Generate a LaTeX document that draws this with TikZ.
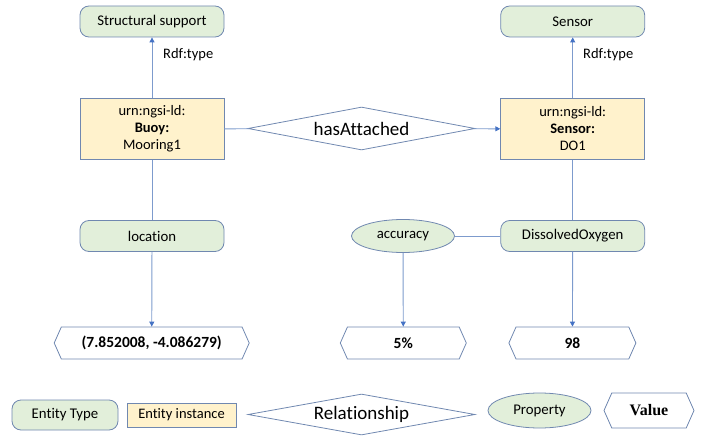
\documentclass[tikz,border=0pt]{standalone}
\usepackage{fontspec}
\setmainfont[Ligatures=NoCommon]{Carlito}
\newfontfamily\serifb{Liberation Serif}
\usetikzlibrary{shapes.geometric,shapes.symbols,arrows.meta}
\definecolor{bordc}{RGB}{112,136,176}
\definecolor{linec}{RGB}{125,155,205}
\definecolor{tipc}{RGB}{68,114,196}
\definecolor{greenf}{RGB}{226,239,218}
\definecolor{yellowf}{RGB}{255,242,204}
\tikzset{
  typebox/.style={draw=bordc, fill=greenf, rounded corners=9pt, minimum width=144pt, minimum height=31pt, inner sep=0pt, font=\fontsize{14.8}{16}\selectfont, line width=0.8pt},
  instbox/.style={draw=bordc, fill=yellowf, minimum width=144pt, minimum height=61pt, inner sep=0pt, align=center, font=\fontsize{14.5}{17}\selectfont, line width=0.8pt},
  relbox/.style={draw=bordc, diamond, aspect=5.3, minimum width=227pt, minimum height=43pt, inner sep=0pt, font=\fontsize{19}{22}\selectfont, line width=0.8pt},
  propbox/.style={draw=bordc, fill=greenf, ellipse, minimum width=103pt, minimum height=33pt, inner sep=0pt, font=\fontsize{14.8}{16}\selectfont, line width=0.8pt},
  valbox/.style={draw=bordc, signal, signal to=west and east, signal pointer angle=132, minimum height=32pt, inner sep=0pt, font=\bfseries\fontsize{15.5}{17}\selectfont, line width=0.8pt},
  conn/.style={draw=linec, line width=0.9pt},
  arr/.style={conn, -{Triangle[length=5pt,width=5pt,fill=tipc,color=tipc]}},
  lbl/.style={font=\fontsize{14.5}{16}\selectfont, inner sep=0pt, anchor=west},
}
\begin{document}
\begin{tikzpicture}[x=1pt,y=-1pt]
\useasboundingbox (0,0) rectangle (702,436);
% entity types
\node[typebox] (ss) at (152,21.5) {Structural support};
\node[typebox] (st) at (572.7,21.5) {Sensor};
% instances
\node[instbox] (buoy) at (152,129) {urn:ngsi-ld:\\\textbf{Buoy:}\\Mooring1};
\node[instbox] (sens) at (572.7,129) {urn:ngsi-ld:\\\textbf{Sensor:}\\DO1};
\node[relbox] (ha) at (361.5,128.5) {hasAttached};
% properties
\node[typebox] (loc) at (152,236) {location};
\node[typebox] (dox) at (572.7,236) {DissolvedOxygen};
\node[propbox] (acc) at (403,236) {accuracy};
% values
\node[valbox, minimum width=195pt] (v1) at (151.7,343) {(7.852008, -4.086279)};
\node[valbox, minimum width=126pt] (v2) at (403.3,343) {5\%};
\node[valbox, minimum width=127pt] (v3) at (572.4,343) {98};
% labels
\node[lbl] (l1) at (163,55) {Rdf:type};
\node[lbl] (l2) at (583,55) {Rdf:type};
% connectors
\draw[arr] (buoy) -- (ss);
\draw[arr] (sens) -- (st);
\draw[conn] (buoy) -- (ha);
\draw[arr] (ha) -- (sens);
\draw[conn] (buoy) -- (loc);
\draw[conn] (sens) -- (dox);
\draw[conn] (acc) -- (dox);
\draw[arr] (loc) -- (v1);
\draw[arr] (acc) -- (v2);
\draw[arr] (dox) -- (v3);
% legend
\node[typebox, minimum width=106pt, minimum height=30pt] (lg1) at (65,415) {Entity Type};
\node[instbox, minimum width=109pt, minimum height=24pt] (lg2) at (181.5,415) {Entity instance};
\node[relbox, minimum height=41pt] (lg3) at (361.5,414.5) {Relationship};
\node[propbox, minimum height=35pt] (lg4) at (539.5,410.5) {Property};
\node[valbox, minimum width=90pt, minimum height=35pt, font=\serifb\bfseries\fontsize{16}{17}\selectfont] (lg5) at (649,410.5) {Value};
\end{tikzpicture}
\end{document}
